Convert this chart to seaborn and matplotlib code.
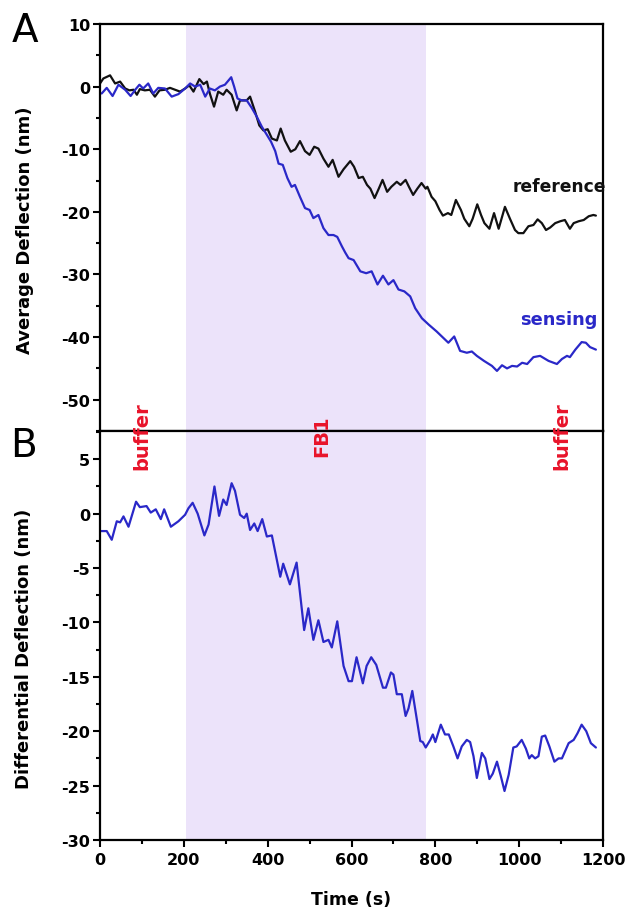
import matplotlib
matplotlib.use("Agg")
import matplotlib.pyplot as plt
import seaborn as sns
from matplotlib.ticker import MultipleLocator

# ---------------- data ----------------
time_ref = [0, 8, 24, 36, 48, 60, 70, 80, 88, 95, 107, 119, 131, 142, 155, 167, 179, 191,
            203, 213, 223, 237, 247, 255, 262, 272, 282, 294, 302, 314, 326, 334, 350, 358,
            370, 380, 390, 400, 410, 422, 431, 441, 455, 466, 477, 489, 500, 511, 521, 533,
            545, 555, 569, 581, 597, 606, 617, 627, 637, 645, 655, 665, 674, 685, 695, 708,
            717, 729, 737, 747, 757, 767, 777, 781, 791, 800, 810, 818, 830, 838, 849, 861,
            869, 881, 889, 900, 909, 917, 929, 940, 951, 966, 978, 990, 998, 1010, 1022,
            1034, 1044, 1054, 1064, 1074, 1086, 1098, 1109, 1121, 1130, 1142, 1154, 1166,
            1177, 1183]
deflection_ref = [0.5, 1.3, 1.8, 0.5, 0.8, -0.3, -0.6, -0.5, -1.3, -0.4, -0.6, -0.5, -1.6, -0.6,
                  -0.5, -0.2, -0.5, -0.8, -0.3, 0.2, -0.8, 1.2, 0.4, 0.8, -1.1, -3.2, -0.8, -1.3,
                  -0.5, -1.3, -3.8, -2.2, -2.2, -1.6, -4.0, -6.2, -7.0, -6.8, -8.3, -8.6, -6.7,
                  -8.6, -10.4, -10.0, -8.7, -10.3, -10.9, -9.6, -9.9, -11.5, -12.8, -11.7, -14.4,
                  -13.2, -11.9, -12.8, -14.6, -14.4, -15.7, -16.3, -17.8, -16.3, -14.9, -16.8,
                  -16.0, -15.2, -15.7, -14.9, -16.0, -17.3, -16.3, -15.4, -16.3, -16.0, -17.6,
                  -18.3, -19.7, -20.6, -20.2, -20.5, -18.1, -19.7, -21.1, -22.3, -21.1, -18.8,
                  -20.5, -21.8, -22.7, -20.2, -22.7, -19.2, -21.1, -22.9, -23.4, -23.4, -22.3,
                  -22.1, -21.2, -21.8, -22.9, -22.5, -21.8, -21.5, -21.3, -22.7, -21.8, -21.5,
                  -21.3, -20.7, -20.5, -20.6]

time_sens = [4, 16, 30, 44, 60, 73, 84, 94, 103, 115, 127, 139, 155, 171, 187, 203, 215, 227,
             239, 251, 262, 274, 286, 298, 313, 320, 328, 338, 350, 362, 374, 386, 398, 408,
             418, 426, 436, 447, 457, 465, 477, 489, 500, 509, 521, 533, 545, 557, 566, 577,
             585, 593, 605, 621, 635, 648, 662, 675, 688, 700, 712, 726, 740, 752, 768, 784,
             803, 831, 845, 859, 875, 887, 899, 916, 935, 947, 959, 971, 983, 995, 1007, 1019,
             1034, 1050, 1070, 1090, 1102, 1114, 1121, 1134, 1149, 1159, 1169, 1183]
deflection_sens = [-1.1, -0.2, -1.5, 0.3, -0.5, -1.5, -0.5, 0.3, -0.3, 0.5, -1.1, -0.2, -0.3,
                   -1.6, -1.2, -0.3, 0.5, 0.0, 0.3, -1.6, -0.3, -0.6, 0.0, 0.3, 1.5, 0.0, -1.9,
                   -2.2, -2.2, -3.4, -4.8, -6.4, -7.7, -8.8, -10.3, -12.3, -12.5, -14.6, -16.0,
                   -15.7, -17.6, -19.4, -19.7, -21.0, -20.5, -22.6, -23.7, -23.7, -24.0, -25.5,
                   -26.5, -27.4, -27.7, -29.5, -29.8, -29.5, -31.6, -30.2, -31.6, -30.9, -32.4,
                   -32.7, -33.5, -35.4, -37.0, -38.0, -39.1, -40.9, -39.9, -42.2, -42.5, -42.3,
                   -43.0, -43.8, -44.6, -45.4, -44.5, -45.0, -44.6, -44.7, -44.1, -44.3, -43.2,
                   -43.0, -43.8, -44.3, -43.5, -43.0, -43.2, -42.0, -40.8, -40.9, -41.6, -42.0]

time_diff = [0, 16, 28, 40, 48, 56, 68, 86, 95, 111, 121, 133, 145, 153, 169, 187, 203, 211,
             221, 233, 249, 259, 273, 284, 294, 302, 314, 322, 334, 344, 350, 358, 368, 376,
             387, 398, 410, 430, 437, 453, 469, 487, 497, 509, 521, 533, 545, 553, 566, 581,
             593, 601, 612, 627, 636, 647, 659, 675, 682, 694, 700, 708, 720, 729, 736, 745,
             764, 770, 777, 788, 794, 800, 813, 823, 832, 843, 853, 863, 875, 883, 891, 899,
             911, 919, 929, 937, 947, 956, 965, 975, 986, 994, 1006, 1016, 1024, 1030, 1038,
             1046, 1054, 1062, 1072, 1084, 1094, 1102, 1118, 1130, 1139, 1149, 1160, 1171, 1183]
deflection_diff = [-1.6, -1.6, -2.4, -0.7, -0.8, -0.25, -1.2, 1.1, 0.6, 0.7, 0.1, 0.4, -0.5, 0.4,
                   -1.2, -0.7, -0.1, 0.5, 1.0, 0.0, -2.0, -1.0, 2.5, -0.2, 1.3, 0.8, 2.8, 2.1,
                   -0.1, -0.4, 0.0, -1.5, -0.9, -1.6, -0.5, -2.1, -2.0, -5.8, -4.6, -6.5, -4.5,
                   -10.7, -8.7, -11.6, -9.8, -11.8, -11.6, -12.3, -9.9, -14.0, -15.4, -15.4,
                   -13.2, -15.6, -14.0, -13.2, -13.9, -16.0, -16.0, -14.6, -14.8, -16.6, -16.6,
                   -18.6, -17.9, -16.3, -20.9, -21.0, -21.5, -20.8, -20.3, -21.0, -19.4, -20.3,
                   -20.3, -21.4, -22.5, -21.4, -20.8, -21.0, -22.3, -24.3, -22.0, -22.5, -24.4,
                   -23.9, -22.8, -24.1, -25.5, -24.0, -21.5, -21.4, -20.8, -21.6, -22.5, -22.2,
                   -22.5, -22.3, -20.5, -20.4, -21.4, -22.8, -22.5, -22.5, -21.1, -20.8, -20.2,
                   -19.4, -20.0, -21.1, -21.5]

fb1_window = [205, 778]
phase_labels = ["buffer", "FB1", "buffer"]
phase_label_x = [100, 530, 1103]

# ---------------- style ----------------
sns.set_style("ticks")
plt.rcParams['font.family'] = ['DejaVu Sans']
plt.rcParams['font.weight'] = 'bold'
plt.rcParams['axes.unicode_minus'] = False
plt.rcParams['text.color'] = 'black'
plt.rcParams['axes.labelcolor'] = 'black'
plt.rcParams['xtick.color'] = 'black'
plt.rcParams['ytick.color'] = 'black'
plt.rcParams['xtick.labelcolor'] = 'black'
plt.rcParams['ytick.labelcolor'] = 'black'

BLUE = '#2a28c8'
BLACK = '#111111'
RED = '#e8142a'
SHADE = '#ece3fa'
LW = 1.6

fig = plt.figure(figsize=(6.29, 9.12), dpi=100)
axA = fig.add_axes([0.159, 0.5263, 0.7997, 0.4463])
axB = fig.add_axes([0.159, 0.0779, 0.7997, 0.4484], sharex=axA)

for ax in (axA, axB):
    ax.axvspan(fb1_window[0], fb1_window[1], color=SHADE, lw=0, zorder=0)
    for s in ax.spines.values():
        s.set_linewidth(1.6)
        s.set_color('black')
        s.set_zorder(4)
    ax.tick_params(which='both', direction='out', width=1.5, labelsize=11.5,
                   top=False, right=False, colors='black', labelcolor='black')
    ax.tick_params(which='major', length=5, pad=2)
    ax.tick_params(which='minor', length=3)

sns.lineplot(x=time_ref, y=deflection_ref, ax=axA, color=BLACK, lw=LW,
             estimator=None, sort=False, zorder=3)
sns.lineplot(x=time_sens, y=deflection_sens, ax=axA, color=BLUE, lw=LW,
             estimator=None, sort=False, zorder=3)
sns.lineplot(x=time_diff, y=deflection_diff, ax=axB, color=BLUE, lw=LW,
             estimator=None, sort=False, zorder=3)

axA.set_xlim(0, 1200)
axA.set_ylim(-55, 10)
axB.set_ylim(-30, 7.6)

axA.yaxis.set_major_locator(MultipleLocator(10))
axA.yaxis.set_minor_locator(MultipleLocator(5))
axB.yaxis.set_major_locator(MultipleLocator(5))
axB.yaxis.set_minor_locator(MultipleLocator(2.5))
axB.xaxis.set_major_locator(MultipleLocator(200))
axB.xaxis.set_minor_locator(MultipleLocator(100))
axA.tick_params(axis='x', which='both', bottom=False, labelbottom=False)
axB.tick_params(axis='x', which='major', length=5, pad=4)

axA.set_ylabel("Average Deflection (nm)", fontsize=13, fontweight='bold', va='center',
               color='black')
axA.yaxis.set_label_coords(-0.149, 0.496)
axB.set_ylabel("Differential Deflection (nm)", fontsize=13, fontweight='bold', va='center',
               color='black')
axB.yaxis.set_label_coords(-0.151, 0.469)
axA.set_xlabel("")
axB.set_xlabel("Time (s)", fontsize=12.5, fontweight='bold', va='center', color='black')
axB.xaxis.set_label_coords(0.5, -0.144)

axA.text(1095, -15.9, "reference", ha='center', va='center', fontsize=12.3,
         fontweight='bold', color=BLACK, zorder=6)
axA.text(1095, -37.1, "sensing", ha='center', va='center', fontsize=12.8,
         fontweight='bold', color=BLUE, zorder=6)

for lab, xv in zip(phase_labels, phase_label_x):
    axB.text(xv, 0.99, lab, transform=axB.get_xaxis_transform(), rotation=90,
             ha='center', va='center', color=RED, fontsize=14, fontweight='bold',
             clip_on=False, zorder=6)

fig.text(12 / 629, 1 - 12 / 912, "A", fontsize=28, fontweight='normal', ha='left', va='top',
         color='black')
fig.text(10 / 629, 1 - 427 / 912, "B", fontsize=28, fontweight='normal', ha='left', va='top',
         color='black')

fig.savefig("out.png", dpi=100, facecolor='white')
